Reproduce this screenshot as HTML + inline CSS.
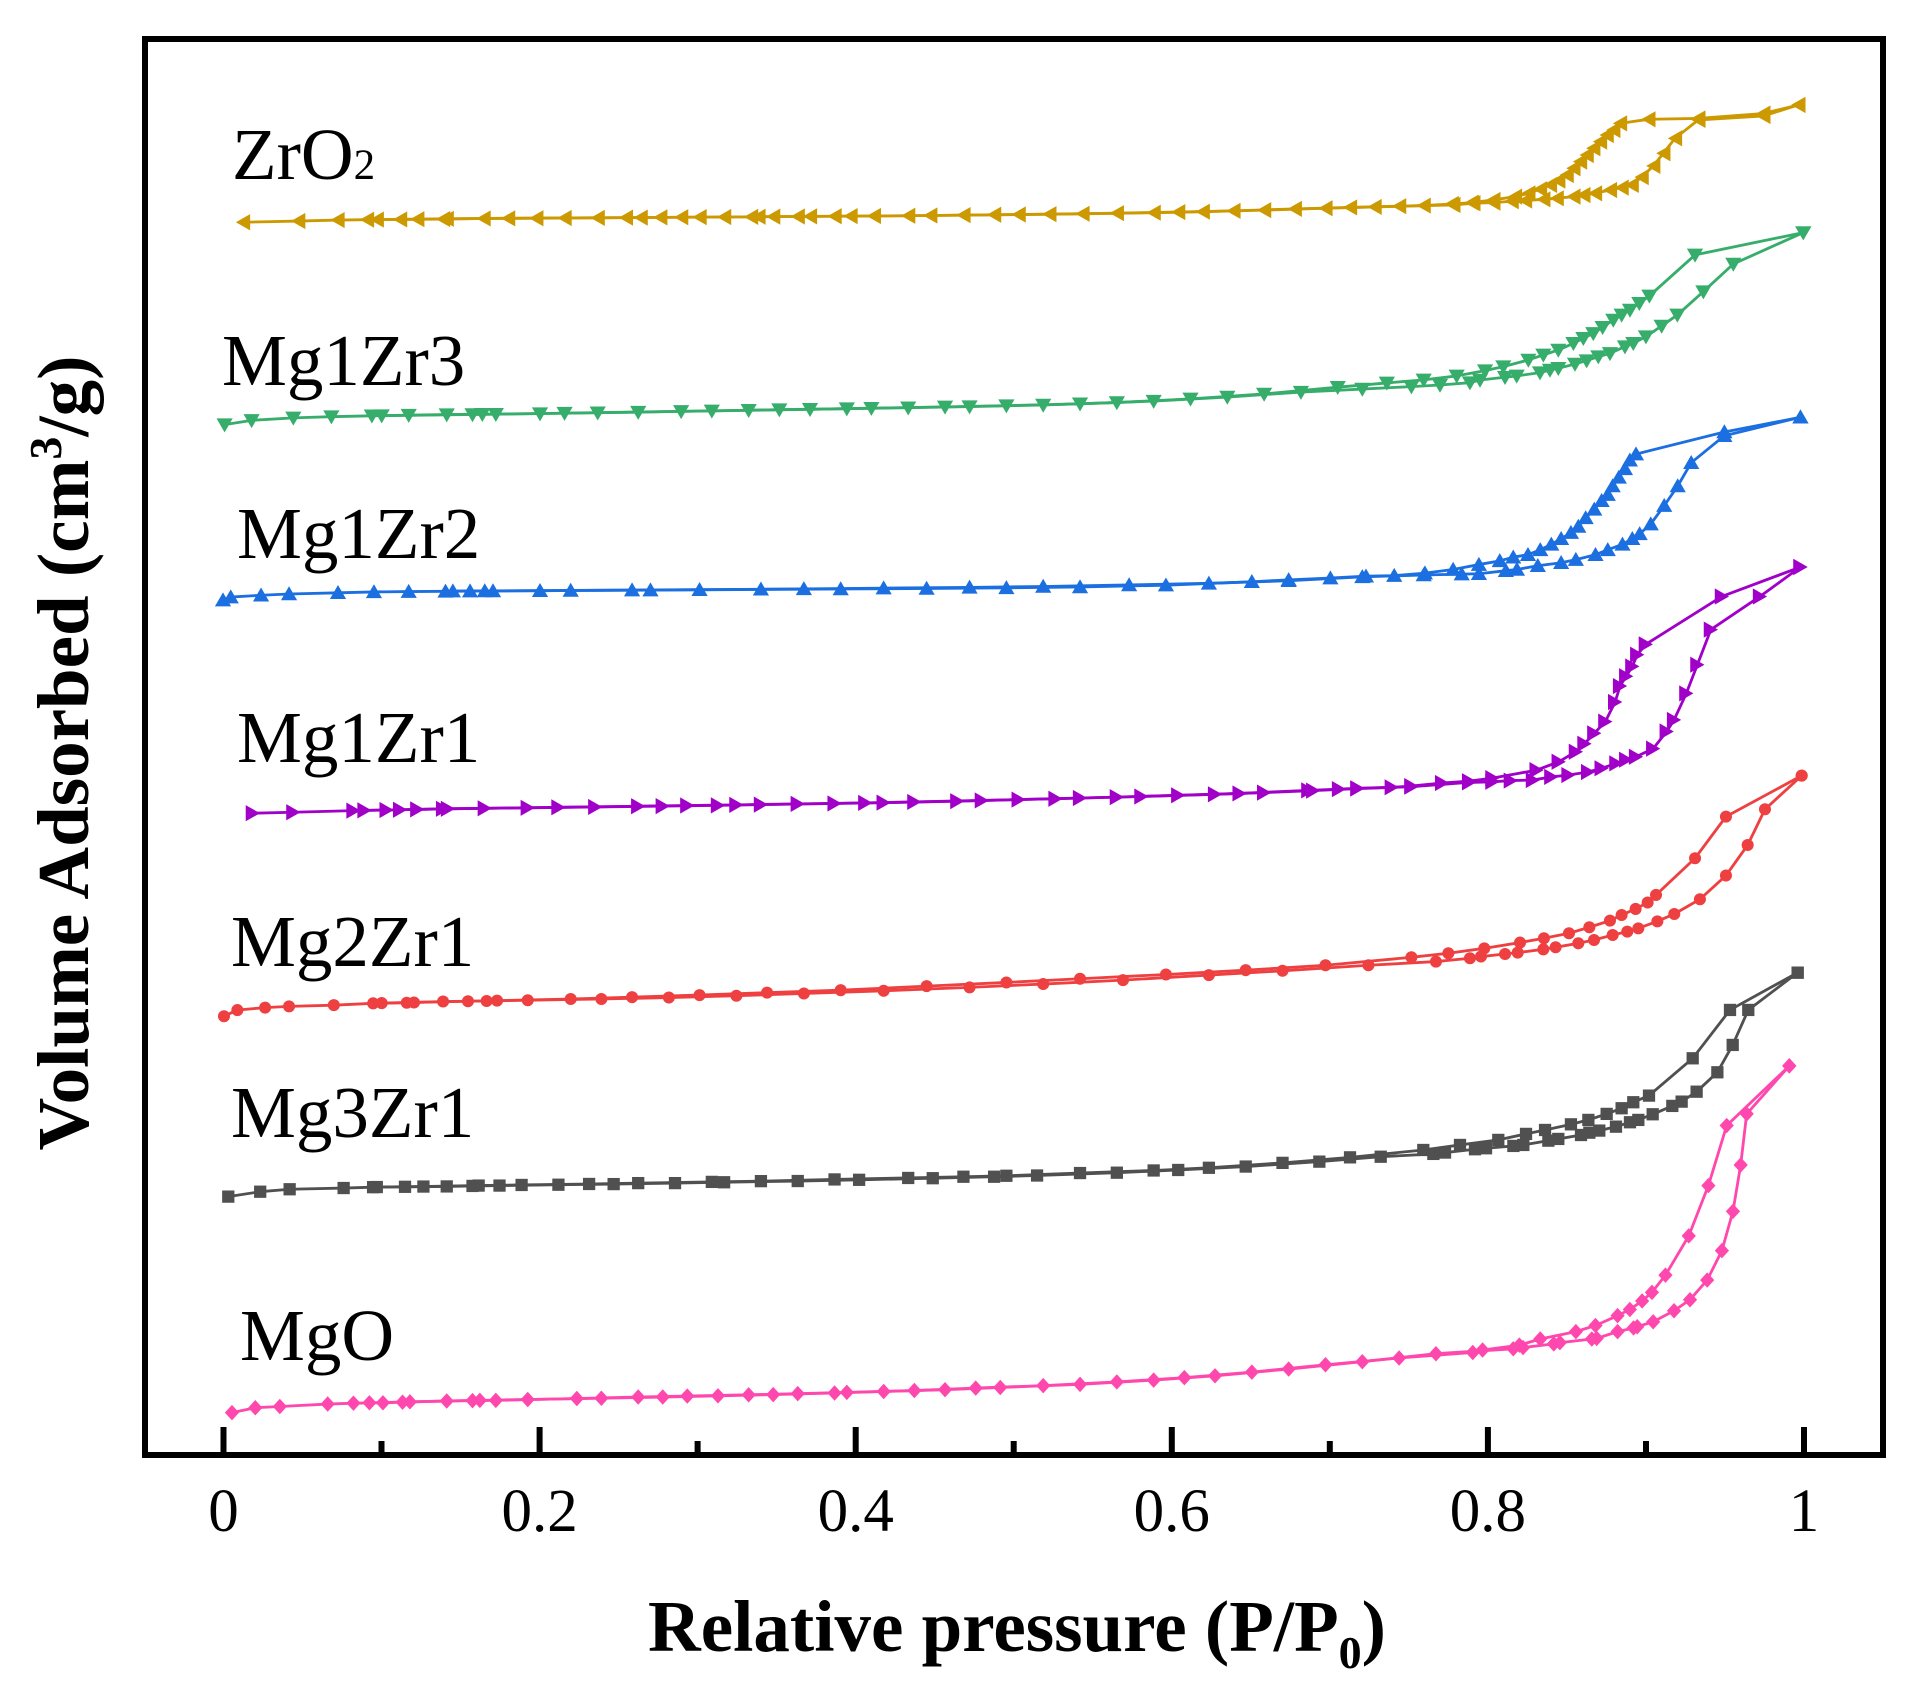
<!DOCTYPE html>
<html>
<head>
<meta charset="utf-8">
<style>
html,body{margin:0;padding:0;background:#fff;}
svg{display:block;}
</style>
</head>
<body>
<svg width="1922" height="1699" viewBox="0 0 1922 1699" xmlns="http://www.w3.org/2000/svg">
<defs>
<marker id="mZ" viewBox="-10 -10 20 20" refX="0" refY="0" markerWidth="20" markerHeight="20" markerUnits="userSpaceOnUse" overflow="visible"><polygon points="-5.8,0 5.8,-6.6 5.8,6.6" fill="#CC9900"/></marker>
<marker id="mG" viewBox="-10 -10 20 20" refX="0" refY="0" markerWidth="20" markerHeight="20" markerUnits="userSpaceOnUse" overflow="visible"><polygon points="-6.6,-5.1 6.6,-5.1 0,6.3" fill="#37AD6B"/></marker>
<marker id="mB" viewBox="-10 -10 20 20" refX="0" refY="0" markerWidth="20" markerHeight="20" markerUnits="userSpaceOnUse" overflow="visible"><polygon points="-6.6,5.1 6.6,5.1 0,-6.3" fill="#1C6FE0"/></marker>
<marker id="mP" viewBox="-10 -10 20 20" refX="0" refY="0" markerWidth="20" markerHeight="20" markerUnits="userSpaceOnUse" overflow="visible"><polygon points="5.8,0 -5.8,-6.6 -5.8,6.6" fill="#A000C8"/></marker>
<marker id="mR" viewBox="-10 -10 20 20" refX="0" refY="0" markerWidth="20" markerHeight="20" markerUnits="userSpaceOnUse" overflow="visible"><circle cx="0" cy="0" r="4.9" fill="#EE4040"/></marker>
<marker id="mK" viewBox="-10 -10 20 20" refX="0" refY="0" markerWidth="20" markerHeight="20" markerUnits="userSpaceOnUse" overflow="visible"><rect x="-5" y="-5" width="10" height="10" fill="#505050"/></marker>
<marker id="mM" viewBox="-10 -10 20 20" refX="0" refY="0" markerWidth="20" markerHeight="20" markerUnits="userSpaceOnUse" overflow="visible"><polygon points="0,-6.3 5.8,0 0,6.3 -5.8,0" fill="#FF48AE"/></marker>
</defs>

<rect x="0" y="0" width="1922" height="1699" fill="#fff"/>

<g transform="scale(1.2273)" fill="none" stroke-width="2.3" stroke-linejoin="round">
<!-- ZrO2 -->
<polyline stroke="#CC9900" marker-start="url(#mZ)" marker-mid="url(#mZ)" marker-end="url(#mZ)" points="198,181.1 243,180.1 275,179.3 299,179 326,178.8 361,178.5 394,178 437,177.8 487,177.5 522,177.3 555,177 590,176.8 618,176.6 650,176.4 680,176.2 712,176 758,175.6 810,175 855,174.5 910,173.7 960,172.8 1005,171.8 1055,170.2 1100,169 1140,168 1184.2,167 1200.5,165.6 1216.8,165.1 1231.7,164 1242.6,163.4 1257.5,162.4 1268.4,161.6 1282,160.2 1290.1,158.9 1299.6,157.5 1311.8,154.8 1321.3,152.9 1329.5,150.7 1337.6,144.3 1347.1,135.2 1355.3,124.9 1364.8,112.7 1383.8,97.7 1436.8,94.5 1465.3,85.5"/>
<polyline stroke="#CC9900" marker-start="url(#mZ)" marker-mid="url(#mZ)" marker-end="url(#mZ)" points="1465.3,85.5 1436.8,92.5 1383.8,96.5 1343.1,97.2 1320,100.5 1314.5,105.9 1309.1,110 1303.7,115.4 1298.2,120.8 1292.8,126.3 1287.4,131.7 1282,137.1 1276.5,142.6 1269.7,147.2 1262.9,150.7 1254.8,154.2 1245.3,157.5 1234.4,160.2 1216.8,162.9 1199.1,165.1 1182.8,166.2 1160,167.5 1120,168.6 1080,169.7 1030,171.2 980,172.5 940,173.3 882,174.2 830,174.8 785,175.3 740,175.8 693,176.1 660,176.3 630,176.5 612,176.7 570,176.9 538,177.1 510,177.3 460,177.6 414,177.9 364,178.3 340,178.6 307,178.9"/>

<!-- Mg1Zr3 -->
<polyline stroke="#37AD6B" marker-start="url(#mG)" marker-mid="url(#mG)" marker-end="url(#mG)" points="183,346 205,342.5 239,340.5 270,339.5 303,338.8 333,338.3 364,337.8 393,337.5 440,337 487,336.3 520,335.8 555,335.2 610,334.3 660,333.5 710,332.6 770,331.5 820,330.5 880,329 940,326.8 1000,323.5 1060,319.5 1110,317 1150,315 1173.3,313.7 1197.7,311.8 1205.9,309.6 1226.3,307.4 1235.8,306.3 1254.8,303.6 1262.9,301.5 1269.7,300.1 1283.3,296.6 1292.8,293.8 1302.3,290.6 1311.8,287.9 1324,282.4 1330.8,279.7 1341.1,274.3 1353.9,265.6 1366.7,256.6 1387.9,237.6 1412.3,215.1 1469.3,189.5"/>
<polyline stroke="#37AD6B" marker-start="url(#mG)" marker-mid="url(#mG)" marker-end="url(#mG)" points="1469.3,189.5 1381.1,207.7 1343.9,241.1 1335.7,247.1 1328.1,252.6 1321.3,256.6 1314.5,260.7 1305.8,266.7 1298.2,271.6 1290.1,275.6 1282,279.7 1269.7,285.2 1257.5,289.2 1245.3,293.3 1224.9,298.7 1210,302 1186.9,306.3 1160,309.5 1130,312 1090,315.5 1030,321 970,325 910,328 850,330 790,331.3 740,332.2 690,333 635,333.8 580,334.8 460,336.6 404,337.5 385,337.7 311,338.7"/>

<!-- Mg1Zr2 -->
<polyline stroke="#1C6FE0" marker-start="url(#mB)" marker-mid="url(#mB)" marker-end="url(#mB)" points="181.7,489 188,486.5 212.7,485 235.5,484 275.4,483 304.7,482.3 333,482 363,481.8 383,481.6 401.7,481.5 440,481.3 465,481.1 515,480.8 570,480.5 620,480.1 655,479.8 720,479.2 790,478.6 850,477.9 920,476.6 985,475.3 1050,473.2 1110,470 1160,468.5 1191,467.8 1205,467.5 1227,465 1236,464 1253,461 1272,458.5 1284,456 1300,452 1310,448 1322,443.5 1330,439 1336,435 1345,427 1356,412 1367,396 1378,377 1405,355 1467,340"/>
<polyline stroke="#1C6FE0" marker-start="url(#mB)" marker-mid="url(#mB)" marker-end="url(#mB)" points="1467,340 1405,352 1333,370 1328,375 1324,382 1319,389 1314,396 1310,403 1305,408 1299,415 1292,422 1286,429 1280,434 1272,439 1264,443.5 1255,448 1245,452 1233,454 1222,457 1205,460 1184,464 1161,467 1136,469 1113,469.5 1084,471 1050,472.5 1020,474 950,476.8 880,478.3 820,479 755,479.5 685,479.9 530,480.8 395,481.5 369,481.6"/>

<!-- Mg1Zr1 -->
<polyline stroke="#A000C8" marker-start="url(#mP)" marker-mid="url(#mP)" marker-end="url(#mP)" points="206,662.6 239,661.8 288,660.5 315,660 340,659.5 361,659 395,658.6 430,658.2 485,657.5 540,656.8 585,656.2 620,655.6 680,654.7 720,654 780,652.8 830,651.5 880,650.2 930,649 990,647.2 1030,645.8 1070,644.2 1106,642.5 1150,641 1197,637.5 1216,637 1231,636 1249,635.6 1264,633 1278,631.5 1294,629 1305,626 1317,622 1325,619 1333,616.6 1347,610 1358,596 1364,586.6 1374,565 1383,541.6 1394,513 1434,486 1467,462"/>
<polyline stroke="#A000C8" marker-start="url(#mP)" marker-mid="url(#mP)" marker-end="url(#mP)" points="1467,462 1403,486 1341,525 1334,533.5 1330,543 1325,551 1320,559 1316,572 1308,588 1299,597.5 1291,606 1284,612.5 1270,620.7 1252,627.5 1216,634 1197,636.5 1175,638 1150,640.5 1134,641.5 1106,642.3 1091,643 1066,644 1010,646.5 960,648 910,649.5 860,650.8 800,652.2 745,653.4 705,654.2 650,655 600,655.8 560,656.3 520,656.9 455,657.8 365,659 326,659.8 297,660.3"/>

<!-- Mg2Zr1 -->
<polyline stroke="#EE4040" marker-start="url(#mR)" marker-mid="url(#mR)" marker-end="url(#mR)" points="182.5,828 193.4,823 216,821 235.5,820 272,819 304,817.5 331.4,817 361,816 396.5,815.6 430,815 490,814 545,812.8 600,811.3 655,809.5 720,807.3 790,804.5 850,801.8 915,798.6 985,794.5 1045,791 1115,786.5 1170,783.5 1197.7,780.8 1206.7,779.4 1226.3,777.3 1236.6,776.2 1257.5,773.5 1267.5,771.8 1286,768.6 1298.8,765.9 1314,761.8 1325.9,759.1 1334.9,756.4 1350.4,750.7 1364.2,744.7 1385.1,732.7 1406.3,713.4 1424,688.5 1438.1,659.4 1468,632"/>
<polyline stroke="#EE4040" marker-start="url(#mR)" marker-mid="url(#mR)" marker-end="url(#mR)" points="1468,632 1406.3,665.4 1381.1,699.3 1349.3,729.2 1342.5,735.4 1332.7,740.6 1321.3,745.5 1311.8,750.1 1295,755.5 1278.4,760.4 1258,764.5 1238.5,768 1209.4,772.7 1180.1,776.7 1150,780 1080,786.5 1015,790.5 950,794 880,797.5 820,800.5 755,803.5 685,806.8 625,808.8 570,810.8 515,812.5 465,814 405,815.3 381.3,815.8 337.3,816.8 311,817.3"/>

<!-- Mg3Zr1 -->
<polyline stroke="#505050" marker-start="url(#mK)" marker-mid="url(#mK)" marker-end="url(#mK)" points="186,975 212,971 236,969 280,968 304,967.3 330,967 364,966.7 385,966.3 407,966 455,965.3 500,964.8 550,964 590,963.3 650,962.3 700,961.3 760,960 810,958.8 845,957.8 910,955.5 960,953.3 1015,950.5 1075,946.5 1125,942.5 1167.9,940.2 1177.4,939.1 1201.8,936.4 1210.8,935.6 1233.1,933.7 1241.2,932.9 1261.6,929.4 1269.7,928 1288.2,924.8 1295,922.9 1303.1,921.2 1316.7,918 1328.1,914.4 1334.9,912.5 1346.6,907.9 1362.6,901.1 1370.2,897.6 1382.4,889.5 1399.3,873.7 1411.8,851.4 1424.5,822.9 1464.7,792.5"/>
<polyline stroke="#505050" marker-start="url(#mK)" marker-mid="url(#mK)" marker-end="url(#mK)" points="1464.7,792.5 1409.6,822.9 1379.2,862.3 1343.6,892.7 1330.8,898.1 1321.3,903 1309.1,907.6 1294.2,912.5 1280,916.1 1258.9,920.7 1243.4,923.9 1220.8,928.8 1189.6,932.9 1159.7,937 1100,943 1045,947.5 985,951.5 940,953.7 880,955.8 820,958 785,958.8 740,959.8 680,961 620,962.4 580,963 520,964 480,964.7 425,965.5 390,966 345,966.8 307,967.2"/>

<!-- MgO -->
<polyline stroke="#FF48AE" marker-start="url(#mM)" marker-mid="url(#mM)" marker-end="url(#mM)" points="189,1151 208,1147 228,1146 267,1144 288,1143.3 312,1143 328,1142.5 364,1141.5 391,1141 430,1140.3 490,1139.3 540,1138.3 585,1137.3 630,1136.3 680,1135 720,1133.8 770,1132.3 815,1130.5 880,1128 940,1124.5 990,1121 1050,1115.5 1110,1109.5 1170,1103 1233,1099 1241,1098 1266,1095 1271,1094 1297,1091 1301,1090.5 1318,1085 1331,1082 1334,1081 1347,1077 1364,1068 1377,1059 1391,1043 1403,1019 1412,987 1418.3,949.2 1423.2,907.6 1457.9,868.5"/>
<polyline stroke="#FF48AE" marker-start="url(#mM)" marker-mid="url(#mM)" marker-end="url(#mM)" points="1457.9,868.5 1406.9,917.1 1392,966 1376,1007 1357,1039 1346,1053 1338,1060 1328,1067 1318,1072 1300,1080 1284,1085 1255,1091 1238,1096 1208,1100 1200,1102 1140,1106.5 1080,1112 1020,1118 965,1122.5 910,1126 850,1129 795,1131 745,1133 690,1134.5 650,1135.5 610,1136.5 560,1137.5 520,1138.3 470,1139.5 404,1141 385,1141.2 334,1142.2 301,1143"/>
</g>

<rect x="145" y="39" width="1738" height="1416" fill="none" stroke="#000" stroke-width="6"/>

<g stroke="#000" stroke-width="6">
<line x1="223.5" y1="1455" x2="223.5" y2="1427"/>
<line x1="539.6" y1="1455" x2="539.6" y2="1427"/>
<line x1="855.7" y1="1455" x2="855.7" y2="1427"/>
<line x1="1171.8" y1="1455" x2="1171.8" y2="1427"/>
<line x1="1487.9" y1="1455" x2="1487.9" y2="1427"/>
<line x1="1804" y1="1455" x2="1804" y2="1427"/>
<line x1="381.5" y1="1455" x2="381.5" y2="1441"/>
<line x1="697.6" y1="1455" x2="697.6" y2="1441"/>
<line x1="1013.7" y1="1455" x2="1013.7" y2="1441"/>
<line x1="1329.8" y1="1455" x2="1329.8" y2="1441"/>
<line x1="1646" y1="1455" x2="1646" y2="1441"/>
</g>

<g font-family="'Liberation Serif', 'Times New Roman', serif" font-size="61" fill="#000" text-anchor="middle">
<text x="223.5" y="1531">0</text>
<text x="539.6" y="1531">0.2</text>
<text x="855.7" y="1531">0.4</text>
<text x="1171.8" y="1531">0.6</text>
<text x="1487.9" y="1531">0.8</text>
<text x="1804" y="1531">1</text>
</g>

<text x="1017" y="1651" font-family="'Liberation Serif', 'Times New Roman', serif" font-size="73" font-weight="bold" text-anchor="middle" fill="#000">Relative pressure (P/P<tspan font-size="46" dy="17">0</tspan><tspan dy="-17">)</tspan></text>

<text transform="translate(88,753) rotate(-90)" font-family="'Liberation Serif', 'Times New Roman', serif" font-size="73" font-weight="bold" text-anchor="middle" fill="#000">Volume Adsorbed (cm<tspan font-size="46" dy="-27">3</tspan><tspan dy="27">/g)</tspan></text>

<g font-family="'Liberation Serif', 'Times New Roman', serif" font-size="73" fill="#000">
<text x="232" y="179">ZrO<tspan font-size="43">2</tspan></text>
<text x="222" y="385">Mg1Zr3</text>
<text x="237" y="558">Mg1Zr2</text>
<text x="237" y="762">Mg1Zr1</text>
<text x="231" y="966">Mg2Zr1</text>
<text x="231" y="1137">Mg3Zr1</text>
<text x="240" y="1360">MgO</text>
</g>
</svg>
</body>
</html>
